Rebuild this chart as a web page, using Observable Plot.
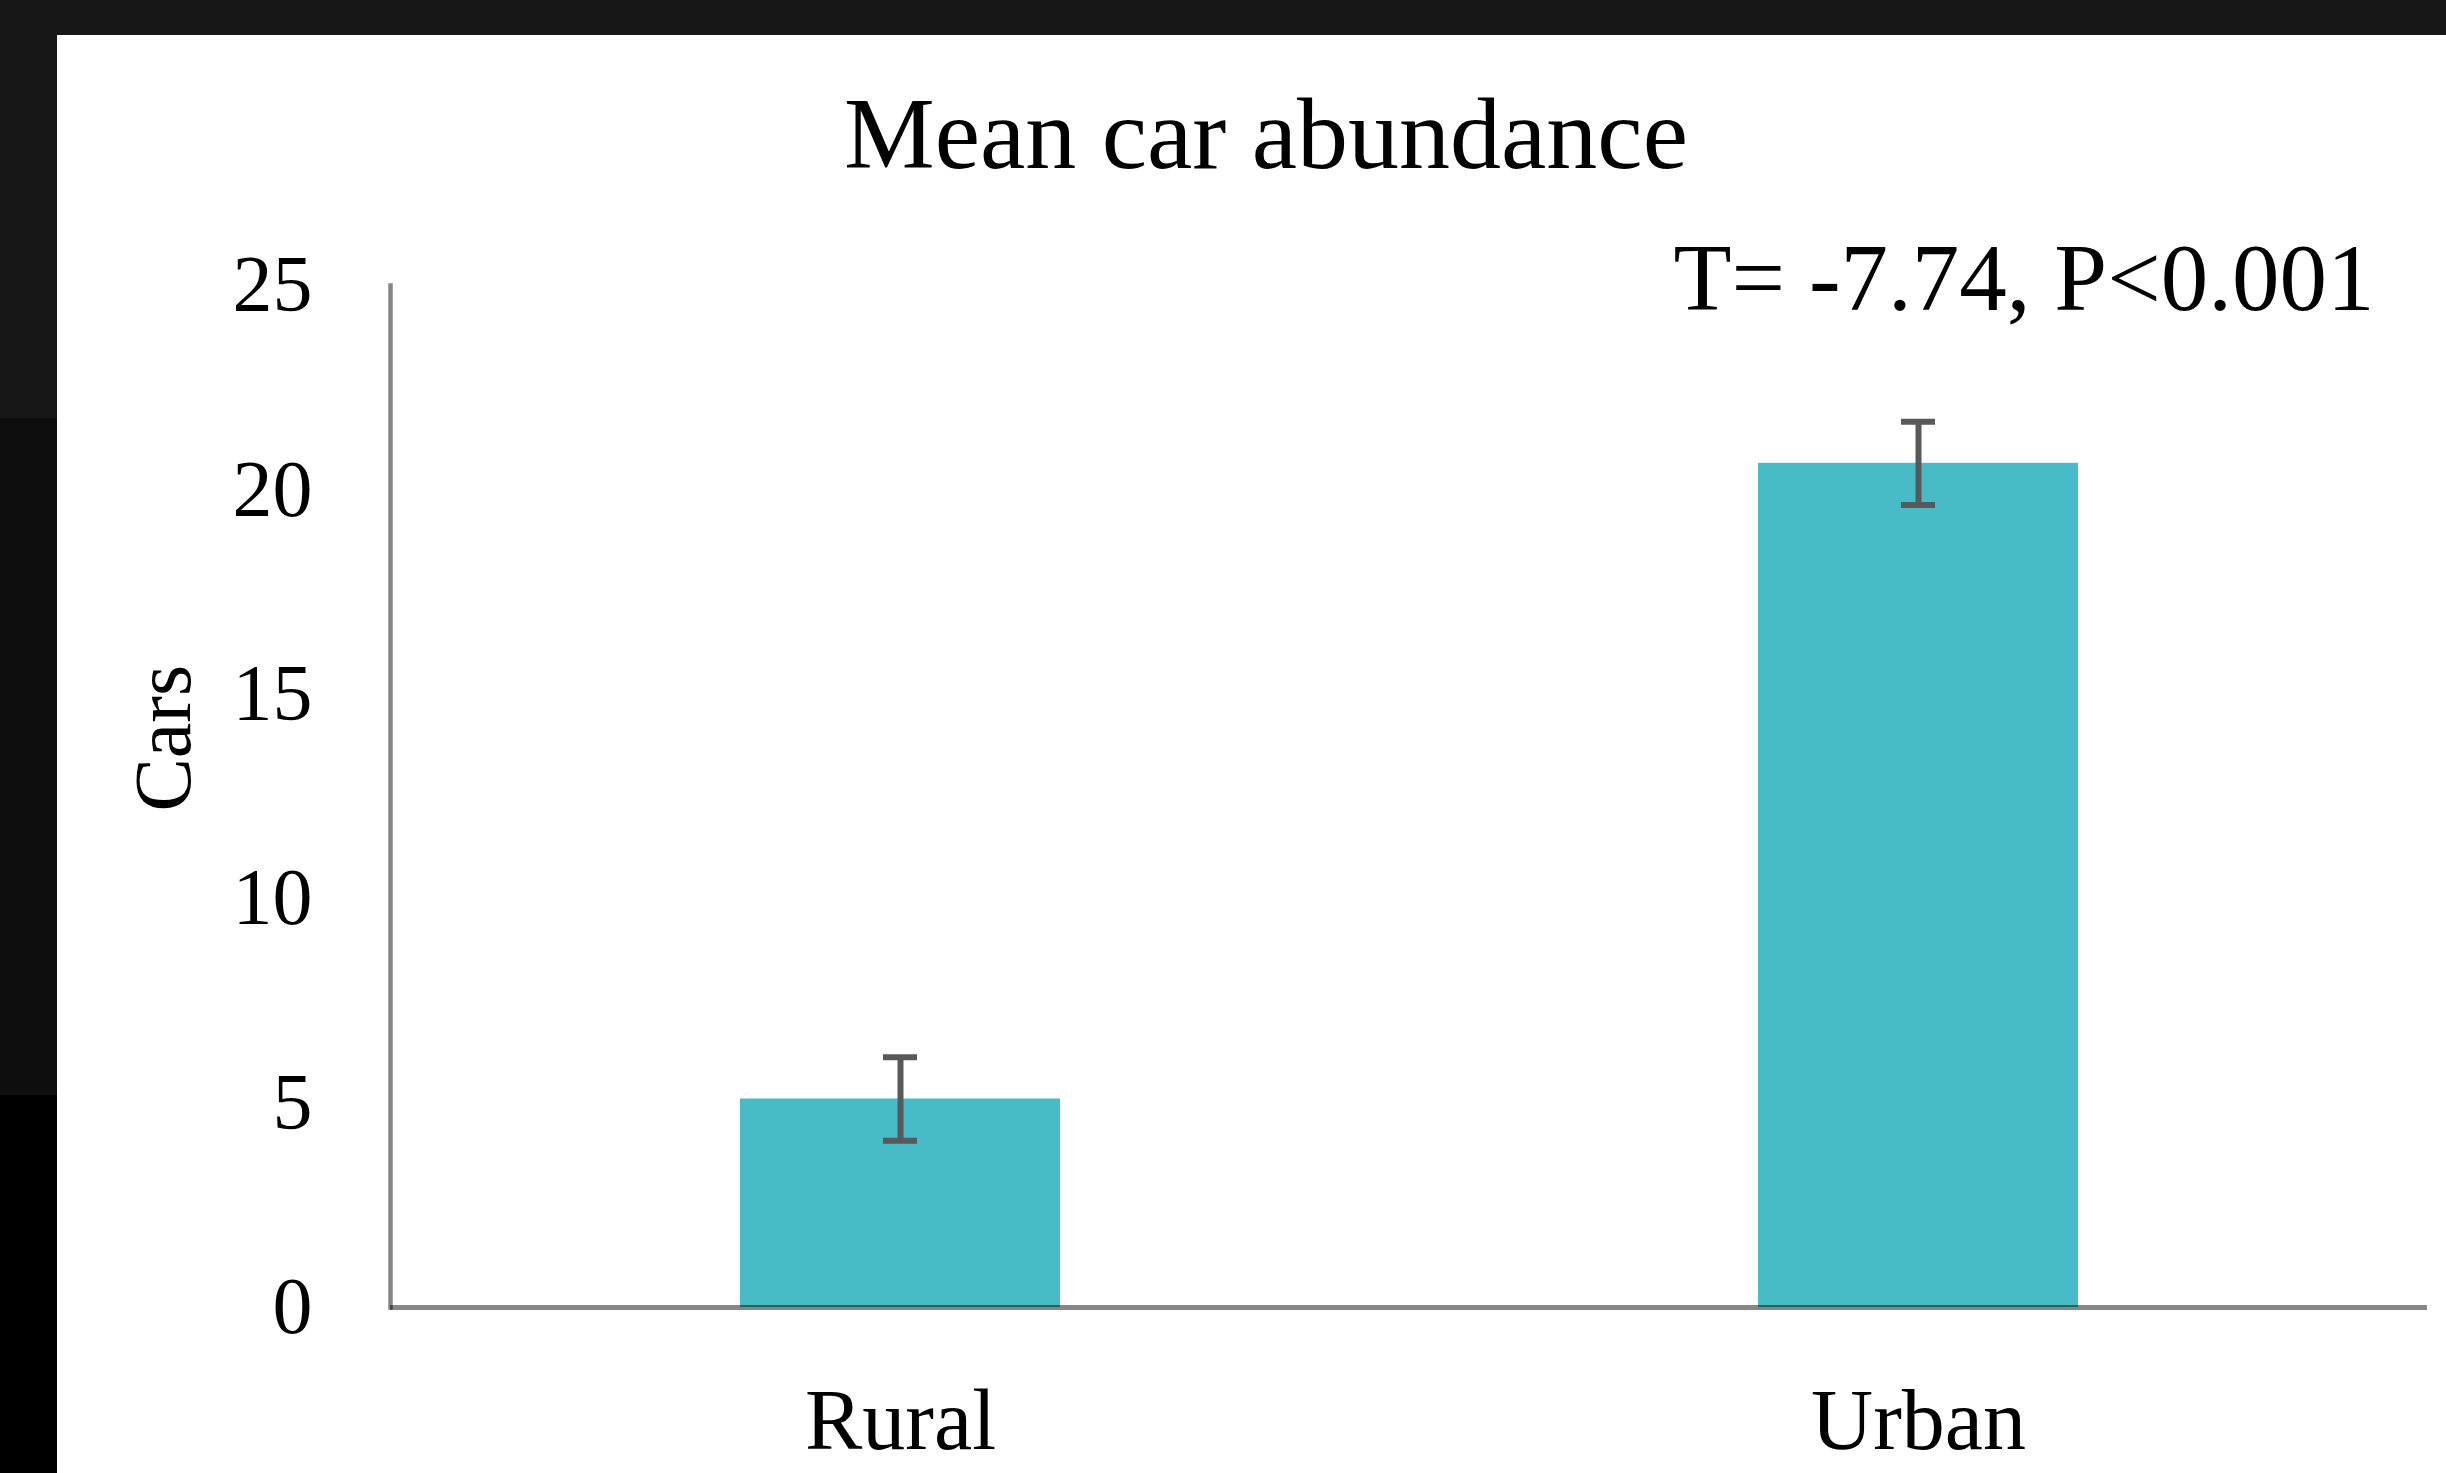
<!DOCTYPE html>
<html><head><meta charset="utf-8">
<script src="https://cdn.jsdelivr.net/npm/d3@7"></script>
<script src="https://cdn.jsdelivr.net/npm/@observablehq/plot@0.6"></script>
<style>
html,body{margin:0;padding:0;background:#000;width:2446px;height:1473px;overflow:hidden;}
#topband{position:absolute;left:0;top:0;width:2446px;height:35px;background:#171717;}
#left1{position:absolute;left:0;top:35px;width:57px;height:383px;background:#171717;}
#left2{position:absolute;left:0;top:418px;width:57px;height:677px;background:#0e0e0e;}
#panel{position:absolute;left:57px;top:35px;width:2389px;height:1438px;background:#fff;}
#title{position:absolute;left:266px;top:83px;width:2000px;text-align:center;font:102px/1 "Liberation Serif";color:#000;}
#chart{position:absolute;left:57px;top:200px;}
</style></head><body>
<div id="topband"></div><div id="left1"></div><div id="left2"></div>
<div id="panel"></div>
<div id="title"></div>
<div id="chart"></div>
<script>
const categories = ["Rural", "Urban"];
const means = [5.1, 20.65];
const errors = [1.02, 1.02];
const yTicks = [0, 5, 10, 15, 20, 25];
const yLabel = "Cars";
const titleText = "Mean car abundance";
const annotation = "T= -7.74, P<0.001";

const data = categories.map((c, i) => ({cat: c, mean: means[i], err: errors[i]}));
document.getElementById("title").textContent = titleText;

const errColor = "#595959";
const chart = Plot.plot({
  width: 2389, height: 1273,
  marginLeft: 333, marginRight: 19, marginTop: 85, marginBottom: 166,
  style: {fontFamily: "Liberation Serif", background: "transparent", color: "#000", overflow: "visible"},
  x: {domain: categories, paddingInner: 0.686, paddingOuter: 0.343, label: null, axis: null},
  y: {domain: [0, 25], label: null, axis: null},
  marks: [
    Plot.frame({anchor: "left", stroke: "#858585", strokeWidth: 4.5}),
    Plot.barY(data, {x: "cat", y: "mean", fill: "#47bbc6"}),
    Plot.ruleY([0], {stroke: "#000", strokeOpacity: 0.47, strokeWidth: 5}),
    Plot.ruleX(data, {x: "cat", y1: d => d.mean - d.err, y2: d => d.mean + d.err, stroke: errColor, strokeWidth: 6}),
    Plot.tickY(data, {x: "cat", y: d => d.mean + d.err, stroke: errColor, strokeWidth: 6, insetLeft: 143, insetRight: 143}),
    Plot.tickY(data, {x: "cat", y: d => d.mean - d.err, stroke: errColor, strokeWidth: 6, insetLeft: 143, insetRight: 143}),
    Plot.axisY({ticks: yTicks, tickSize: 0, tickPadding: 78, fontSize: 80, label: null}),
    Plot.axisX({tickSize: 0, tickPadding: 80, fontSize: 86, label: null}),
    Plot.text([yLabel], {frameAnchor: "left", rotate: -90, dx: -226, dy: 15, fontSize: 80, text: d => d}),
    Plot.text([annotation], {frameAnchor: "top-right", textAnchor: "end", lineAnchor: "bottom", dx: -53, dy: 24, fontSize: 95, text: d => d})
  ]
});
document.getElementById("chart").appendChild(chart);
</script>
</body></html>
